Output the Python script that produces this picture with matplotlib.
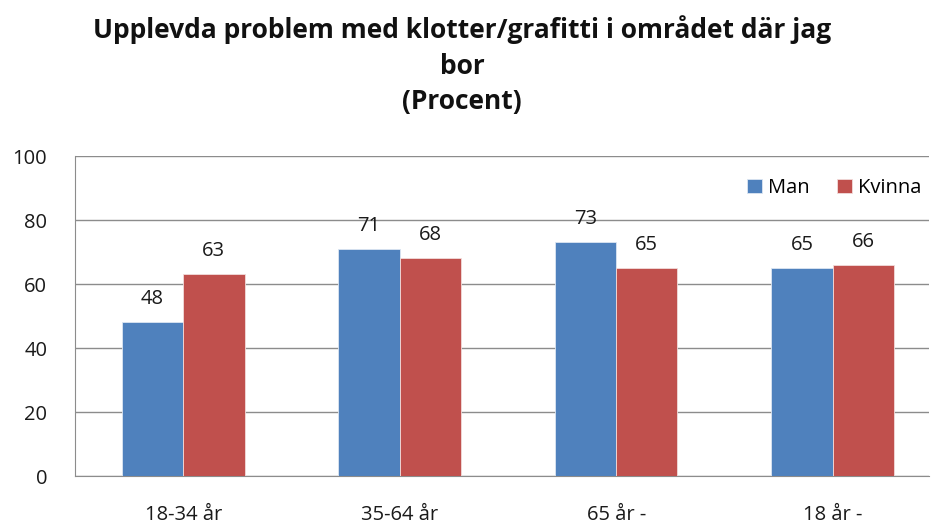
import numpy as np
import matplotlib.pyplot as plt

# data
categories = ['18-34 år', '35-64 år', '65 år -', '18 år -']
man = [48, 71, 73, 65]
kvinna = [63, 68, 65, 66]
series_names = ['Man', 'Kvinna']
title_lines = ['Upplevda problem med klotter/grafitti i området där jag', 'bor', '(Procent)']

plt.rcParams['font.family'] = ['Open Sans', 'DejaVu Sans']

W, H = 933, 528
fig = plt.figure(figsize=(W / 100, H / 100), dpi=100)
ax = fig.add_axes([75 / W, (H - 476) / H, (929 - 75) / W, (476 - 156) / H])

x = np.arange(len(categories))
bw = 0.283
b1 = ax.bar(x - bw / 2, man, bw, color='#4F81BD', edgecolor='#dce6f2', linewidth=0.6, label=series_names[0], zorder=3)
b2 = ax.bar(x + bw / 2, kvinna, bw, color='#C0504D', edgecolor='#f2dcdb', linewidth=0.6, label=series_names[1], zorder=3)

# value labels above the bars
for bars in (b1, b2):
    for rect in bars:
        h = rect.get_height()
        ax.annotate(f'{h:.0f}', (rect.get_x() + rect.get_width() / 2, h),
                    xytext=(0, 13), textcoords='offset points',
                    ha='center', va='baseline', fontsize=14.5, color='#1a1a1a')

ax.set_xlim(-0.5, 3.445)
ax.set_ylim(0, 100)
ax.set_yticks(range(0, 101, 20))
ax.set_xticks(x)
ax.set_xticklabels(categories)
ax.tick_params(axis='x', length=0, pad=21, labelsize=14.5, labelcolor='#1a1a1a')
ax.tick_params(axis='y', length=0, pad=20, labelsize=14.5, labelcolor='#1a1a1a')
ax.yaxis.grid(True, color='#8c8c8c', linewidth=1)
ax.set_axisbelow(True)
for s in ['top', 'right']:
    ax.spines[s].set_visible(False)
ax.spines['left'].set_color('#8c8c8c')
ax.spines['bottom'].set_color('#8c8c8c')

ax.legend(loc='upper right', bbox_to_anchor=(1.0, 0.955), frameon=False, ncol=2,
          fontsize=14.5, handlelength=0.7, handleheight=0.7, handletextpad=0.3,
          columnspacing=1.4, borderaxespad=0)

# title, one line at a time
for yy, line in zip([30, 66, 102], title_lines):
    fig.text(462 / W, 1 - yy / H, line, ha='center', va='center', fontsize=19,
             fontweight='bold', color='#111111')

fig.savefig('out.png', dpi=100)
